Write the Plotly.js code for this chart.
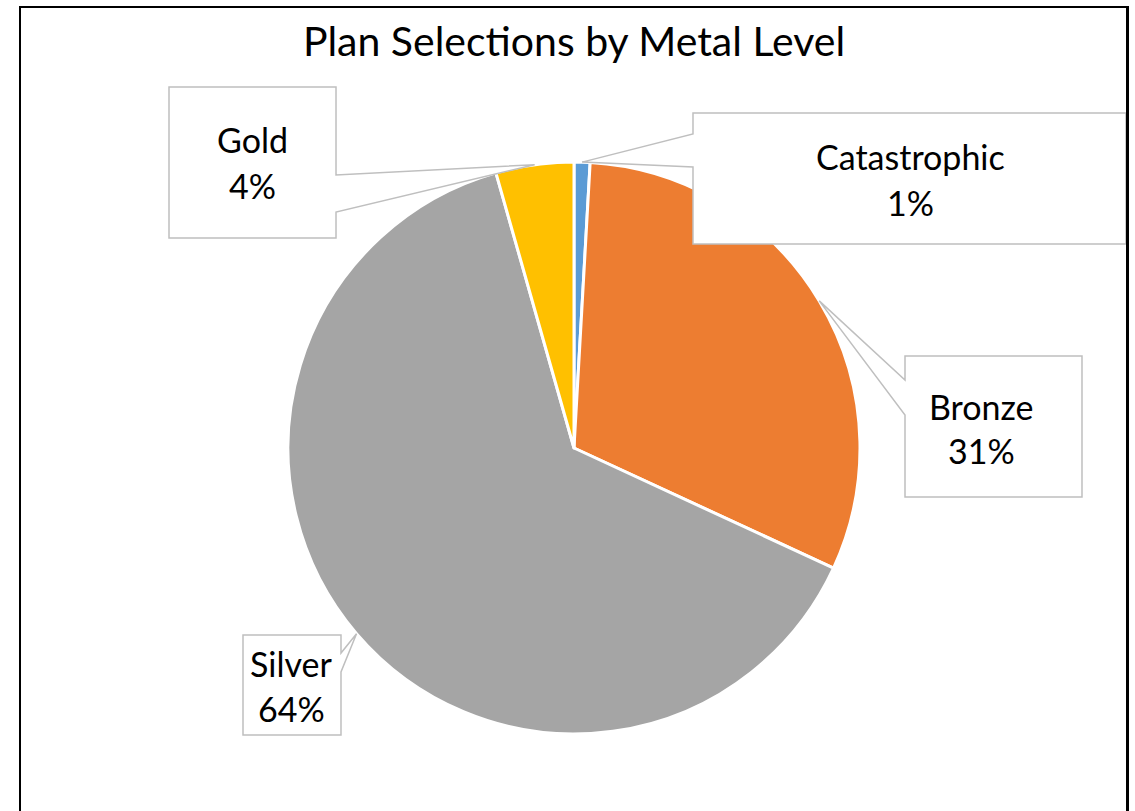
<!DOCTYPE html>
<html>
<head>
<meta charset="utf-8">
<script src="https://cdn.plot.ly/plotly-3.0.1.min.js"></script>
<style>
html,body{margin:0;padding:0;background:#fff;overflow:hidden;}
#frame{position:absolute;left:19px;top:6px;width:1105px;height:803px;border-left:2px solid #000;border-top:2px solid #000;border-right:3px solid #000;border-bottom:1px solid #C8C8C8;pointer-events:none;z-index:10;}
</style>
</head>
<body>
<div id="chart" style="width:1135px;height:811px;"></div>
<div id="frame"></div>
<script>
// ---- data ----
const categories = ['Catastrophic', 'Bronze', 'Silver', 'Gold'];
const shares = [0.9, 31.0, 63.7, 4.4];
const sliceColors = ['#5B9BD5', '#ED7D31', '#A5A5A5', '#FFC000'];
const chartTitle = 'Plan Selections by Metal Level';

// ---- layout constants (pixels) ----
const W = 1135, H = 811;
const CX = 574, CY = 448, R = 286;
const FONT = 'Lato, "Open Sans", sans-serif';
// callout boxes: [x0, y0, x1, y1], side of wedge, wedge attach y's, text centre x, text line y's
const callouts = {
  'Catastrophic': {box: [693, 113, 1126, 244], side: 'left', att: [134, 167], tx: 910, ty: [157, 203]},
  'Bronze':       {box: [905, 356, 1082, 497], side: 'left', att: [380, 415], tx: 981, ty: [406, 451]},
  'Silver':       {box: [243, 635, 341, 735], side: 'right', att: [653, 672], tx: 291, ty: [663, 708]},
  'Gold':         {box: [169, 87, 336, 238], side: 'right', att: [175, 212], tx: 252, ty: [140, 186]}
};

const px = x => x / W;
const py = y => 1 - y / H;
const P = (x, y) => px(x).toFixed(5) + ',' + py(y).toFixed(5);

const total = shares.reduce((a, b) => a + b, 0);
const shapes = [];
const annotations = [];
let cum = 0;
categories.forEach((cat, i) => {
  const mid = (cum + shares[i] / 2) / total * 2 * Math.PI;
  cum += shares[i];
  const tipX = CX + R * Math.sin(mid);
  const tipY = CY - R * Math.cos(mid);
  const c = callouts[cat];
  const [x0, y0, x1, y1] = c.box;
  let path;
  if (c.side === 'left') {
    path = 'M' + P(x0, y0) + ' L' + P(x1, y0) + ' L' + P(x1, y1) + ' L' + P(x0, y1) +
           ' L' + P(x0, c.att[1]) + ' L' + P(tipX, tipY) + ' L' + P(x0, c.att[0]) + ' Z';
  } else {
    path = 'M' + P(x0, y0) + ' L' + P(x1, y0) + ' L' + P(x1, c.att[0]) + ' L' + P(tipX, tipY) +
           ' L' + P(x1, c.att[1]) + ' L' + P(x1, y1) + ' L' + P(x0, y1) + ' Z';
  }
  shapes.push({type: 'path', xref: 'paper', yref: 'paper', path: path,
               fillcolor: '#FFFFFF', line: {color: '#BFBFBF', width: 1.5}, layer: 'above'});
  const pct = Math.round(shares[i] / total * 100) + '%';
  [cat, pct].forEach((t, k) => {
    annotations.push({xref: 'paper', yref: 'paper', x: px(c.tx), y: py(c.ty[k]),
      xanchor: 'center', yanchor: 'middle', showarrow: false, text: t,
      font: {family: FONT, size: 34, color: '#000000'}});
  });
});

const trace = {
  type: 'pie',
  labels: categories,
  values: shares,
  marker: {colors: sliceColors, line: {color: '#FFFFFF', width: 3}},
  sort: false,
  direction: 'clockwise',
  rotation: 0,
  textinfo: 'none',
  hoverinfo: 'label+percent',
  showlegend: false,
  domain: {x: [px(CX - R), px(CX + R)], y: [py(CY + R), py(CY - R)]}
};

const layout = {
  width: W, height: H,
  margin: {l: 0, r: 0, t: 0, b: 0},
  paper_bgcolor: '#FFFFFF',
  showlegend: false,
  title: {text: chartTitle, x: px(574), xanchor: 'center', y: py(42), yanchor: 'middle',
          font: {family: FONT, size: 41, color: '#000000'}},
  shapes: shapes,
  annotations: annotations
};

Plotly.newPlot('chart', [trace], layout, {displayModeBar: false, staticPlot: true});
</script>
</body>
</html>
